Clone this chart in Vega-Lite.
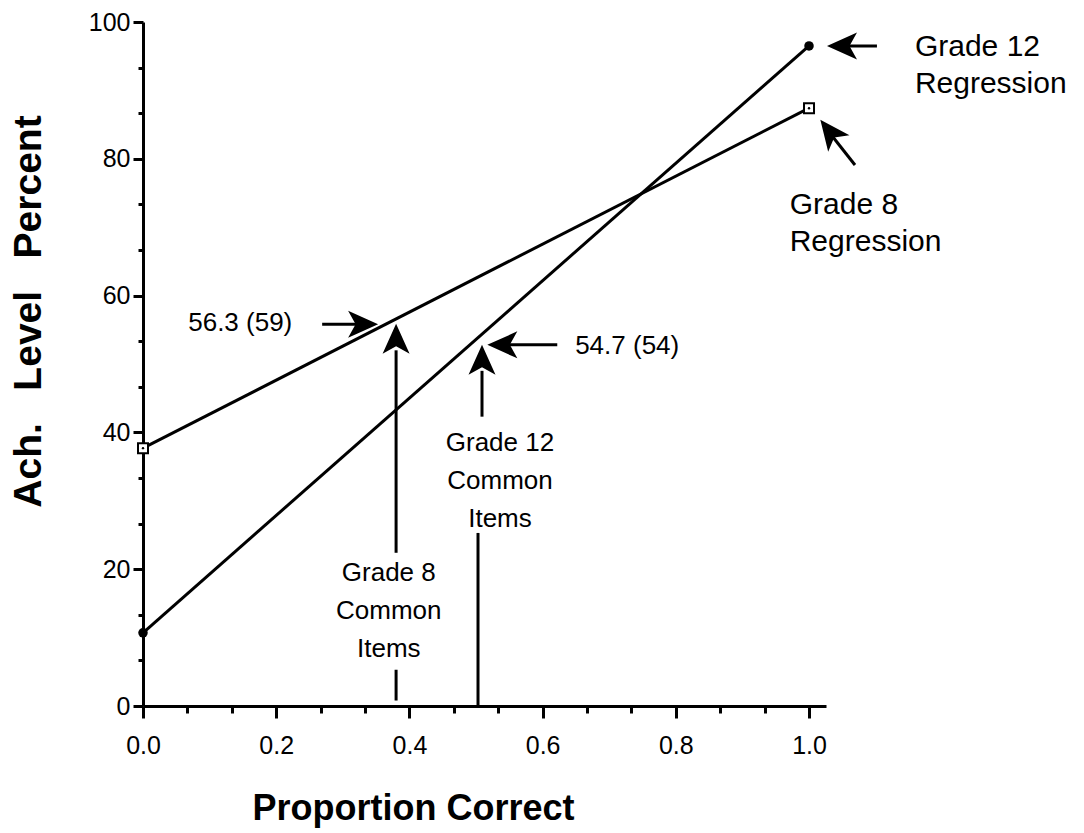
{
  "$schema": "https://vega.github.io/schema/vega-lite/v6.json",
  "width": 683,
  "height": 684,
  "autosize": "none",
  "padding": {"left": 143, "top": 22, "right": 258, "bottom": 127},
  "background": "white",
  "config": {"view": {"stroke": null}, "font": "Liberation Sans", "axis": {"grid": false}},
  "datasets": {
    "lines": [
      {"grade": "Grade 8", "p": 0, "level": 37.7},
      {"grade": "Grade 8", "p": 1, "level": 87.4},
      {"grade": "Grade 12", "p": 0, "level": 10.7},
      {"grade": "Grade 12", "p": 1, "level": 96.5}
    ],
    "shafts": [
      {"x": 0.269, "y": 55.8, "x2": 0.33, "y2": 55.8},
      {"x": 0.38, "y": 22.4, "x2": 0.38, "y2": 52},
      {"x": 0.38, "y": 0.8, "x2": 0.38, "y2": 5.3},
      {"x": 0.622, "y": 52.8, "x2": 0.54, "y2": 52.8},
      {"x": 0.509, "y": 42.3, "x2": 0.509, "y2": 49},
      {"x": 0.503, "y": 0.1, "x2": 0.503, "y2": 25.3},
      {"x": 1.102, "y": 96.5, "x2": 1.05, "y2": 96.5},
      {"x": 1.069, "y": 79.1, "x2": 1.035, "y2": 83.3}
    ],
    "heads": [
      {"x": 0.353, "y": 55.8, "dir": "right"},
      {"x": 0.38, "y": 55.9, "dir": "up"},
      {"x": 0.517, "y": 52.8, "dir": "left"},
      {"x": 0.509, "y": 52.8, "dir": "up"},
      {"x": 1.027, "y": 96.5, "dir": "left"},
      {"x": 1.017, "y": 85.7, "dir": "up-left"}
    ],
    "notes": [
      {"kind": "value", "text": "56.3 (59)", "x": 0.146, "y": 56.0},
      {"kind": "value", "text": "54.7 (54)", "x": 0.727, "y": 52.6},
      {"kind": "common", "text": "Grade 8\nCommon\nItems", "x": 0.369, "y": 19.4},
      {"kind": "common", "text": "Grade 12\nCommon\nItems", "x": 0.536, "y": 38.5},
      {"kind": "regression", "text": "Grade 12\nRegression", "x": 1.159, "y": 96.3},
      {"kind": "regression", "text": "Grade 8\nRegression", "x": 0.971, "y": 73.2}
    ]
  },
  "layer": [
    {
      "data": {"name": "lines"},
      "mark": {"type": "line", "color": "black", "strokeWidth": 3},
      "encoding": {
        "x": {
          "field": "p", "type": "quantitative",
          "scale": {"domain": [0, 1.0255], "nice": false, "zero": false},
          "axis": {
            "title": "Proportion Correct",
            "values": [0, 0.06667, 0.13333, 0.2, 0.26667, 0.33333, 0.4, 0.46667, 0.53333, 0.6, 0.66667, 0.73333, 0.8, 0.86667, 0.93333, 1.0],
            "labelExpr": "abs(datum.value*5 - round(datum.value*5)) < 0.01 ? format(datum.value, '.1f') : ''",
            "tickSize": {"condition": {"test": "abs(datum.value*5 - round(datum.value*5)) < 0.01", "value": 12}, "value": 7},
            "tickWidth": 3, "tickColor": "black",
            "domainColor": "black", "domainWidth": 3,
            "labelFontSize": 25, "labelColor": "black", "labelPadding": 15,
            "labelOverlap": false, "labelFlush": false,
            "titleFontSize": 36, "titleFontWeight": "bold", "titleColor": "black",
            "titleX": 270, "titleY": 102, "titleBaseline": "middle", "titleAlign": "center"
          }
        },
        "y": {
          "field": "level", "type": "quantitative",
          "scale": {"domain": [0, 100], "nice": false},
          "axis": {
            "title": "Ach.\u00a0\u00a0\u00a0Level\u00a0\u00a0\u00a0Percent",
            "values": [0, 6.6667, 13.3333, 20, 26.6667, 33.3333, 40, 46.6667, 53.3333, 60, 66.6667, 73.3333, 80, 86.6667, 93.3333, 100],
            "labelExpr": "abs(datum.value/20 - round(datum.value/20)) < 0.01 ? format(datum.value, 'd') : ''",
            "tickSize": {"condition": {"test": "abs(datum.value/20 - round(datum.value/20)) < 0.01", "value": 10}, "value": 5},
            "tickWidth": 3, "tickColor": "black",
            "domainColor": "black", "domainWidth": 3,
            "labelFontSize": 25, "labelColor": "black", "labelPadding": 3,
            "labelOverlap": false, "labelFlush": false,
            "titleFontSize": 39, "titleFontWeight": "bold", "titleColor": "black",
            "titleX": -115, "titleY": 289, "titleAngle": -90, "titleBaseline": "middle", "titleAlign": "center"
          }
        },
        "detail": {"field": "grade", "type": "nominal"}
      }
    },
    {
      "data": {"name": "lines"},
      "transform": [{"filter": "datum.grade == 'Grade 12'"}],
      "mark": {"type": "point", "shape": "circle", "filled": true, "color": "black", "size": 90, "opacity": 1},
      "encoding": {
        "x": {"field": "p", "type": "quantitative"},
        "y": {"field": "level", "type": "quantitative"}
      }
    },
    {
      "data": {"name": "lines"},
      "transform": [{"filter": "datum.grade == 'Grade 8'"}],
      "mark": {"type": "point", "shape": "square", "filled": true, "fill": "white", "stroke": "black", "strokeWidth": 2, "size": 100, "opacity": 1},
      "encoding": {
        "x": {"field": "p", "type": "quantitative"},
        "y": {"field": "level", "type": "quantitative"}
      }
    },
    {
      "data": {"name": "lines"},
      "transform": [{"filter": "datum.grade == 'Grade 8'"}],
      "mark": {"type": "point", "shape": "circle", "filled": true, "color": "black", "size": 6, "opacity": 1},
      "encoding": {
        "x": {"field": "p", "type": "quantitative"},
        "y": {"field": "level", "type": "quantitative"}
      }
    },
    {
      "data": {"name": "shafts"},
      "mark": {"type": "rule", "color": "black", "strokeWidth": 3},
      "encoding": {
        "x": {"field": "x", "type": "quantitative"},
        "y": {"field": "y", "type": "quantitative"},
        "x2": {"field": "x2"},
        "y2": {"field": "y2"}
      }
    },
    {
      "data": {"name": "heads"},
      "transform": [{"filter": "datum.dir == 'right'"}],
      "mark": {"type": "point", "shape": "M0,0 L-2,-0.9 L-1.5,0 L-2,0.9 Z", "filled": true, "color": "black", "size": 900, "opacity": 1, "angle": 0},
      "encoding": {
        "x": {"field": "x", "type": "quantitative"},
        "y": {"field": "y", "type": "quantitative"}
      }
    },
    {
      "data": {"name": "heads"},
      "transform": [{"filter": "datum.dir == 'up'"}],
      "mark": {"type": "point", "shape": "M0,0 L-2,-0.9 L-1.5,0 L-2,0.9 Z", "filled": true, "color": "black", "size": 900, "opacity": 1, "angle": 270},
      "encoding": {
        "x": {"field": "x", "type": "quantitative"},
        "y": {"field": "y", "type": "quantitative"}
      }
    },
    {
      "data": {"name": "heads"},
      "transform": [{"filter": "datum.dir == 'left'"}],
      "mark": {"type": "point", "shape": "M0,0 L-2,-0.9 L-1.5,0 L-2,0.9 Z", "filled": true, "color": "black", "size": 900, "opacity": 1, "angle": 180},
      "encoding": {
        "x": {"field": "x", "type": "quantitative"},
        "y": {"field": "y", "type": "quantitative"}
      }
    },
    {
      "data": {"name": "heads"},
      "transform": [{"filter": "datum.dir == 'up-left'"}],
      "mark": {"type": "point", "shape": "M0,0 L-2,-0.9 L-1.5,0 L-2,0.9 Z", "filled": true, "color": "black", "size": 900, "opacity": 1, "angle": 232},
      "encoding": {
        "x": {"field": "x", "type": "quantitative"},
        "y": {"field": "y", "type": "quantitative"}
      }
    },
    {
      "data": {"name": "notes"},
      "transform": [{"filter": "datum.kind == 'value'"}],
      "mark": {"type": "text", "fontSize": 26, "align": "center", "baseline": "middle", "color": "black"},
      "encoding": {
        "x": {"field": "x", "type": "quantitative"},
        "y": {"field": "y", "type": "quantitative"},
        "text": {"field": "text"}
      }
    },
    {
      "data": {"name": "notes"},
      "transform": [{"filter": "datum.kind == 'common'"}],
      "mark": {"type": "text", "fontSize": 26, "align": "center", "baseline": "middle", "lineBreak": "\n", "lineHeight": 38, "color": "black"},
      "encoding": {
        "x": {"field": "x", "type": "quantitative"},
        "y": {"field": "y", "type": "quantitative"},
        "text": {"field": "text"}
      }
    },
    {
      "data": {"name": "notes"},
      "transform": [{"filter": "datum.kind == 'regression'"}],
      "mark": {"type": "text", "fontSize": 30, "align": "left", "baseline": "middle", "lineBreak": "\n", "lineHeight": 37, "color": "black"},
      "encoding": {
        "x": {"field": "x", "type": "quantitative"},
        "y": {"field": "y", "type": "quantitative"},
        "text": {"field": "text"}
      }
    }
  ]
}
